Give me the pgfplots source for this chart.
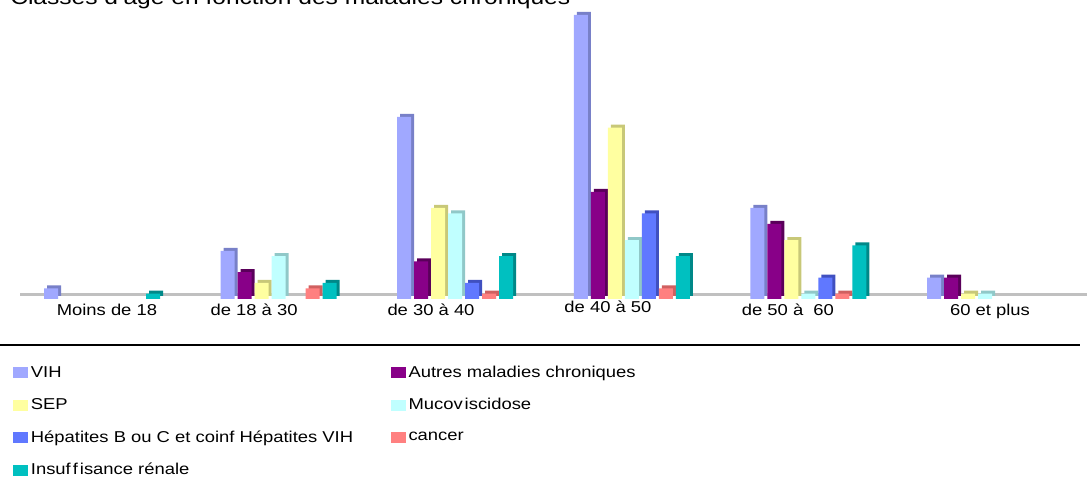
\documentclass[border=0pt]{standalone}
\usepackage{pgfplots}
\pgfplotsset{compat=1.18}
\usepackage{pgfplotstable}
\usepackage{fontspec}
\setmainfont{Liberation Sans}[FakeStretch=1.17]

\definecolor{cVIH}{HTML}{A0A8FF}\definecolor{sVIH}{HTML}{7880C8}
\definecolor{cAut}{HTML}{880088}\definecolor{sAut}{HTML}{5A005A}
\definecolor{cSEP}{HTML}{FFFFA0}\definecolor{sSEP}{HTML}{C8C878}
\definecolor{cMuc}{HTML}{C0FFFF}\definecolor{sMuc}{HTML}{90C8C8}
\definecolor{cHep}{HTML}{6078FF}\definecolor{sHep}{HTML}{4050C0}
\definecolor{cCan}{HTML}{FF8080}\definecolor{sCan}{HTML}{D06060}
\definecolor{cIR}{HTML}{00C0C0}\definecolor{sIR}{HTML}{008888}
\definecolor{floorgray}{HTML}{C0C0C0}

\pgfplotstableread{
g VIH Autres SEP Muco Hep cancer IR
0 2  nan nan nan nan nan 1
1 9  5   3   8   nan 2   3
2 34 7   17  16  3   1   8
3 53 20  32  11  16  2   8
4 17 14  11  1   4   1   10
5 4  4   1   1   nan nan nan
}\data

\pgfplotsset{
  front/.style n args={2}{ybar, bar width=10.5pt, bar shift=#1, fill=#2, draw=none,
    legend image code/.code={\fill[#2] (0pt,-4.125pt) rectangle (11.25pt,4.125pt);}},
  side/.style n args={2}{ybar, bar width=10.5pt, bar shift=#1, fill=#2, draw=none,
    yshift=2.25pt, forget plot},
}

\begin{document}
\begin{tikzpicture}
\useasboundingbox (0pt,0pt) rectangle (817.5pt,360.75pt);
% floor of the 3D chart and separator line
\draw[line width=2.25pt, floorgray] (15pt,139.5pt) -- (815.25pt,139.5pt);
\draw[line width=1.5pt, black] (0pt,102pt) -- (810pt,102pt);
\node[anchor=base west, inner sep=0pt, font=\fontsize{15.75pt}{18pt}\selectfont]
  at (7.5pt,357pt) {Classes d'âge en fonction des maladies chroniques};
\begin{axis}[
  at={(0pt,136.5pt)}, anchor=south west,
  scale only axis, width=817.5pt, height=213pt,
  xmin=-0.5776, xmax=5.5946, ymin=0, ymax=53,
  clip=false,
  axis line style={draw=none}, major tick style={draw=none},
  ytick=\empty,
  xtick={0.028,0.861,1.863,2.865,3.884,5.028},
  xticklabels={Moins de 18, de 18 à 30, de 30 à 40, \raisebox{2.25pt}{de 40 à 50}, de 50 à\ \ 60, 60 et plus},
  xticklabel style={anchor=base, yshift=-12.75pt, inner sep=0pt,
    font=\fontsize{11.8pt}{14pt}\selectfont},
  legend columns=2,
  legend cell align=left,
  legend style={at={(0.0119,-0.2254)}, anchor=north west, draw=none, fill=none,
    inner sep=0pt, row sep=10.25pt,
    font=\fontsize{11.8pt}{14pt}\selectfont,
    /tikz/every even column/.append style={column sep=26.25pt}},
]
\addplot[side={-36pt}{sVIH}] table[x=g,y=VIH]{\data};
\addplot[front={-38.25pt}{cVIH}] table[x=g,y=VIH]{\data};
\addlegendentry{VIH}
\addplot[side={-23.25pt}{sAut}] table[x=g,y=Autres]{\data};
\addplot[front={-25.5pt}{cAut}] table[x=g,y=Autres]{\data};
\addlegendentry{Autres maladies chroniques}
\addplot[side={-10.5pt}{sSEP}] table[x=g,y=SEP]{\data};
\addplot[front={-12.75pt}{cSEP}] table[x=g,y=SEP]{\data};
\addlegendentry{SEP}
\addplot[side={2.25pt}{sMuc}] table[x=g,y=Muco]{\data};
\addplot[front={0pt}{cMuc}] table[x=g,y=Muco]{\data};
\addlegendentry{Mucov\kern1.5pt iscidose}
\addplot[side={15pt}{sHep}] table[x=g,y=Hep]{\data};
\addplot[front={12.75pt}{cHep}] table[x=g,y=Hep]{\data};
\addlegendentry{Hépatites B ou C et coinf\ Hépatites VIH}
\addplot[side={27.75pt}{sCan}] table[x=g,y=cancer]{\data};
\addplot[front={25.5pt}{cCan}] table[x=g,y=cancer]{\data};
\addlegendentry{cancer}
\addplot[side={40.5pt}{sIR}] table[x=g,y=IR]{\data};
\addplot[front={38.25pt}{cIR}] table[x=g,y=IR]{\data};
\addlegendentry{Insuf\kern1.5pt f\kern1.5pt isance rénale}
\end{axis}
\end{tikzpicture}
\end{document}
